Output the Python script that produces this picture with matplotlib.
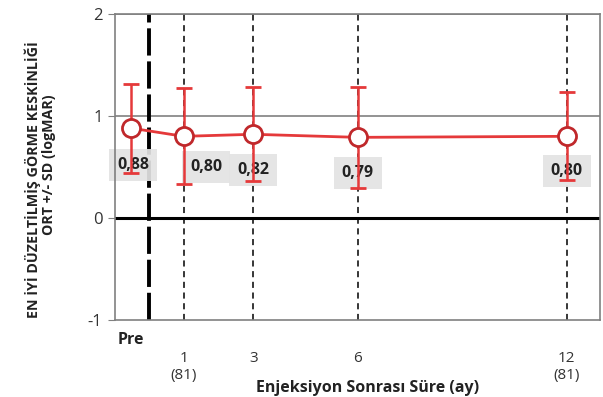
import numpy as np
import matplotlib.pyplot as plt
from matplotlib.transforms import blended_transform_factory

plt.rcParams['font.family'] = ['Open Sans', 'DejaVu Sans']

# data
months = [-0.5, 1, 3, 6, 12]
mean_va = [0.88, 0.80, 0.82, 0.79, 0.80]
upper = [1.31, 1.27, 1.28, 1.28, 1.23]
lower = [0.44, 0.33, 0.36, 0.29, 0.37]
value_labels = ['0,88', '0,80', '0,82', '0,79', '0,80']
label_y = [0.52, 0.50, 0.47, 0.44, 0.46]
label_x = [-0.45, 1.65, 3.0, 6.0, 12.0]
tick_months = [1, 3, 6, 12]
tick_labels = ['1\n(81)', '3', '6', '12\n(81)']

red = '#e5393a'
dark_red = '#c0282b'

fig = plt.figure(figsize=(6.03, 3.97), dpi=100)
ax = fig.add_axes([0.1907, 0.194, 0.8043, 0.771])

mean_va = np.asarray(mean_va)
yerr = [mean_va - np.asarray(lower), np.asarray(upper) - mean_va]

# grid / reference lines
for y in [1, 2]:
    ax.axhline(y, color='#808080', lw=1.2, zorder=1)
ax.axhline(0, color='black', lw=2.2, zorder=1)
for m in tick_months:
    ax.axvline(m, color='black', lw=1.1, ls=(0, (4, 3)), zorder=1)
ax.axvline(0, color='black', lw=2.8, ls=(0, (7, 1.5)), zorder=1)

ax.errorbar(months, mean_va, yerr=yerr, color=red, lw=2, ecolor=red,
            elinewidth=1.8, capsize=6, capthick=1.8, zorder=3,
            marker='o', ms=13, mfc='white', mec=dark_red, mew=2)

for x, y, t in zip(label_x, label_y, value_labels):
    ax.text(x, y, t, ha='center', va='center', fontsize=11.5,
            fontweight='bold', color='#222222', zorder=2,
            bbox=dict(boxstyle='square,pad=0.5', fc='#e3e3e3', ec='none', alpha=0.92))

ax.set_xlim(-0.97, 12.96)
ax.set_ylim(-1, 2)
ax.set_yticks([-1, 0, 1, 2])
ax.set_yticklabels(['-1', '0', '1', '2'], fontsize=12, color='#333333')
ax.tick_params(axis='y', length=5, color='#808080', pad=4)

ax.set_xticks(tick_months)
ax.set_xticklabels(tick_labels, fontsize=11, color='#333333', linespacing=1.2)
ax.tick_params(axis='x', length=0, pad=22)

trans = blended_transform_factory(ax.transData, ax.transAxes)
ax.text(-0.5, -0.065, 'Pre', transform=trans, ha='center', va='center',
        fontsize=11.5, fontweight='bold', color='#222222')

ax.set_xlabel('Enjeksiyon Sonrası Süre (ay)', fontsize=11.5, fontweight='bold',
              color='#222222')
ax.xaxis.set_label_coords(0.52, -0.195)

for s in ['left', 'right', 'top', 'bottom']:
    ax.spines[s].set_color('#808080')
    ax.spines[s].set_linewidth(1.2)

fig.text(0.054, 0.547, 'EN İYİ DÜZELTİLMİŞ GÖRME KESKİNLİĞİ', rotation=90,
         ha='center', va='center', fontsize=10.3, fontweight='bold', color='#222222')
fig.text(0.082, 0.584, 'ORT +/- SD (logMAR)', rotation=90,
         ha='center', va='center', fontsize=10.3, fontweight='bold', color='#222222')

fig.savefig('out.png', dpi=100)
